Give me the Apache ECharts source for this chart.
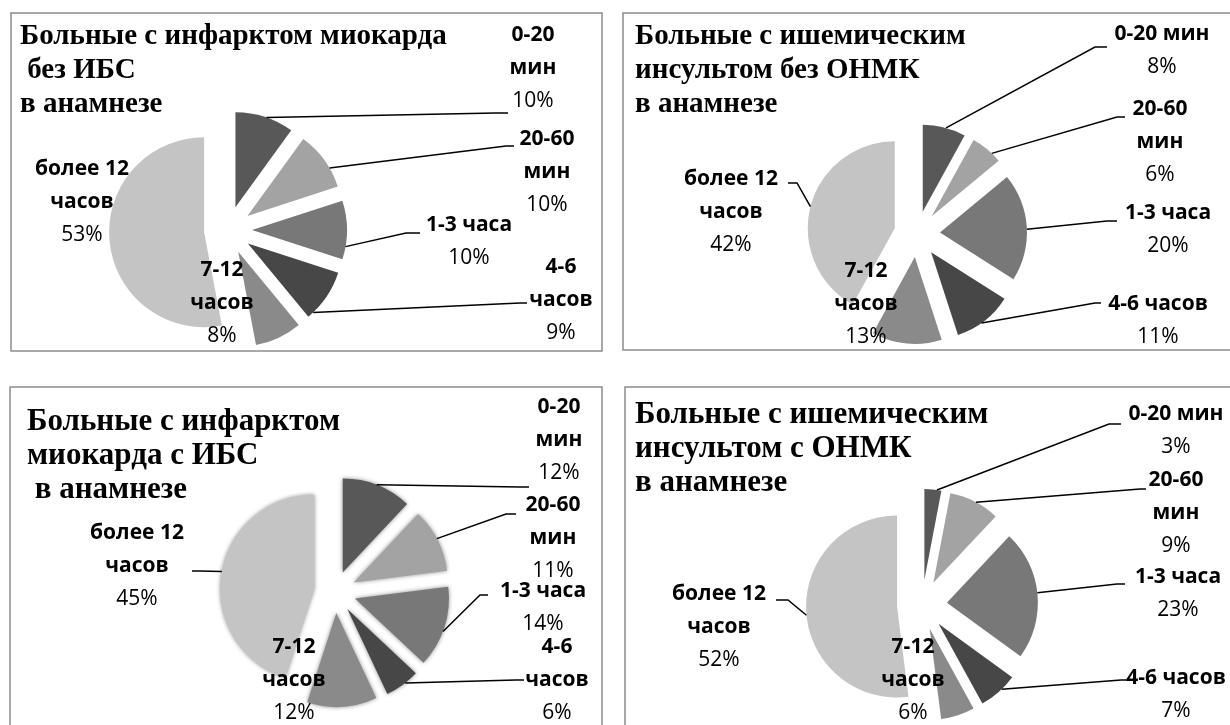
<!DOCTYPE html>
<html>
<head>
<meta charset="utf-8">
<script src="https://cdn.jsdelivr.net/npm/echarts@6/dist/echarts.min.js"></script>
<style>
  html, body { margin: 0; padding: 0; background: #fff; }
  #main { width: 1230px; height: 725px; }
</style>
</head>
<body>
<div id="main"></div>
<script>
// категории времени от начала симптомов
var categories = ['0-20 мин', '20-60 мин', '1-3 часа', '4-6 часов', '7-12 часов', 'более 12 часов'];

// проценты по группам
var miNoIhd = [10, 10, 10, 9, 8, 53];
var strokeNoHistory = [8, 6, 20, 11, 13, 42];
var miIhd = [12, 11, 14, 6, 12, 45];
var strokeHistory = [3, 9, 23, 7, 6, 52];

var titles = [
  'Больные с инфарктом миокарда\n без ИБС\nв анамнезе',
  'Больные с ишемическим\nинсультом без ОНМК\nв анамнезе',
  'Больные с инфарктом\nмиокарда с ИБС\n в анамнезе',
  'Больные с ишемическим\nинсультом с ОНМК\nв анамнезе'
];

var colors = ['#585858', '#a3a3a3', '#787878', '#474747', '#8a8a8a', '#c4c4c4'];

// раскладка панелей: центр, радиус, вынос секторов, подписи и выноски
// lines: [доля по дуге сектора, излом x, y, конец x, y]
var panels = [
  { values: miNoIhd, center: [228, 230], r: 95, off: 24, title: [20, 20], tsize: 29,
    wrap: [1, 1, 0, 1, 1, 1],
    pos: [[533, 68], [547, 172], [469, 242], [561, 300], [222, 303], [82, 202]],
    lines: [[0.53, 496, 113, 508, 113], [0.66, 506, 146, 514, 146], [0.78, 406, 233, 420, 233],
            [0.88, 520, 303, 527, 303], null, null] },
  { values: strokeNoHistory, center: [917, 234], r: 87, off: 23, title: [635, 20], tsize: 29,
    wrap: [0, 1, 0, 0, 1, 1],
    pos: [[1162, 51], [1160, 142], [1168, 230], [1158, 321], [866, 304], [731, 212]],
    lines: [[0.54, 1095, 47, 1107, 47], [0.69, 1117, 117, 1125, 117], [0.52, 1107, 221, 1117, 221],
            [0.56, 1095, 303, 1101, 303], null, [0.5, 797, 183, 788, 183]] },
  { values: miIhd, center: [335, 592], r: 94, off: 21, title: [27, 405], tsize: 31,
    wrap: [1, 1, 0, 1, 1, 1],
    pos: [[559, 440], [553, 538], [543, 608], [557, 680], [294, 680], [137, 566]],
    lines: [[0.49, 520, 487, 529, 487], [0.48, 506, 514, 516, 514], [0.55, 480, 595, 488, 595],
            [0.41, 516, 680, 524, 680], null, [0.51, 200, 571, 192, 571]] },
  { values: strokeHistory, center: [922, 605], r: 91, off: 25, title: [635, 398], tsize: 31,
    wrap: [0, 1, 0, 0, 1, 1],
    pos: [[1176, 431], [1176, 513], [1178, 594], [1176, 695], [913, 680], [719, 627]],
    lines: [[0.74, 1109, 424, 1121, 424], [0.53, 1140, 489, 1146, 489], [0.49, 1117, 584, 1125, 584],
            [0.4, 1121, 680, 1127, 680], null, [0.49, 788, 600, 776, 600]] }
];

var boxes = [[11, 13, 591, 338], [623, 13, 620, 337], [10, 387, 592, 350], [625, 387, 620, 350]];

// точка на дуге вынесенного сектора (для начала выноски)
function arcPoint(p, i, frac) {
  var total = 0, before = 0;
  p.values.forEach(function(v, j) { total += v; if (j < i) before += v; });
  var start = before / total * 2 * Math.PI;
  var span = p.values[i] / total * 2 * Math.PI;
  var mid = start + span / 2;
  var a = start + frac * span;
  return [
    p.center[0] + p.off * Math.sin(mid) + p.r * Math.sin(a),
    p.center[1] - p.off * Math.cos(mid) - p.r * Math.cos(a)
  ];
}

var chart = echarts.init(document.getElementById('main'));

var series = [];
panels.forEach(function(p, k) {
  // сами сектора (все вынесены)
  series.push({
    type: 'pie',
    center: p.center,
    radius: p.r,
    startAngle: 90,
    clockwise: true,
    selectedMode: 'multiple',
    selectedOffset: p.off,
    emphasis: { disabled: true },
    silent: true,
    animation: false,
    label: { show: false },
    labelLine: { show: false },
    itemStyle: k === 2 ? { shadowBlur: 4, shadowColor: 'rgba(0,0,0,0.45)' } : {},
    data: p.values.map(function(v, i) {
      return { value: v, name: categories[i], selected: true, itemStyle: { color: colors[i] } };
    })
  });
  // подписи с выносками
  series.push({
    type: 'pie',
    center: p.center,
    radius: p.r,
    startAngle: 90,
    clockwise: true,
    selectedMode: false,
    avoidLabelOverlap: false,
    emphasis: { disabled: true },
    silent: true,
    animation: false,
    z: 3,
    itemStyle: { color: 'rgba(0,0,0,0)' },
    data: p.values.map(function(v, i) {
      var name = categories[i];
      var shown = p.wrap[i] ? name.replace(/ (?=\S+$)/, '\n') : name;
      return {
        value: v,
        name: name,
        label: { formatter: '{n|' + shown + '}\n{p|' + v + '%}' },
        labelLine: { show: !!p.lines[i] }
      };
    }),
    label: {
      show: true,
      position: 'outside',
      color: '#000',
      rich: {
        n: { fontFamily: 'Open Sans', fontWeight: 'bold', fontSize: 21, lineHeight: 33, color: '#000', align: 'center' },
        p: { fontFamily: 'Open Sans', fontSize: 21, lineHeight: 33, color: '#000', align: 'center' }
      }
    },
    labelLine: { show: true, length: 10, length2: 10, lineStyle: { color: '#000', width: 1.5 } },
    labelLayout: function(params) {
      var i = params.dataIndex;
      var q = p.pos[i];
      var res = { x: q[0], y: q[1], align: 'center', verticalAlign: 'middle' };
      var ln = p.lines[i];
      if (ln) {
        res.labelLinePoints = [arcPoint(p, i, ln[0]), [ln[1], ln[2]], [ln[3], ln[4]]];
      }
      return res;
    }
  });
});

var option = {
  backgroundColor: '#fff',
  title: panels.map(function(p, k) {
    return {
      text: titles[k],
      left: p.title[0],
      top: p.title[1],
      padding: 0,
      textStyle: { fontFamily: 'Liberation Serif', fontWeight: 'bold', fontSize: p.tsize, lineHeight: 34, color: '#000' }
    };
  }),
  graphic: boxes.map(function(b) {
    return { type: 'rect', shape: { x: b[0], y: b[1], width: b[2], height: b[3] }, style: { fill: 'none', stroke: '#8c8c8c', lineWidth: 1.5 }, z: -1 };
  }),
  series: series
};

chart.setOption(option);
</script>
</body>
</html>
